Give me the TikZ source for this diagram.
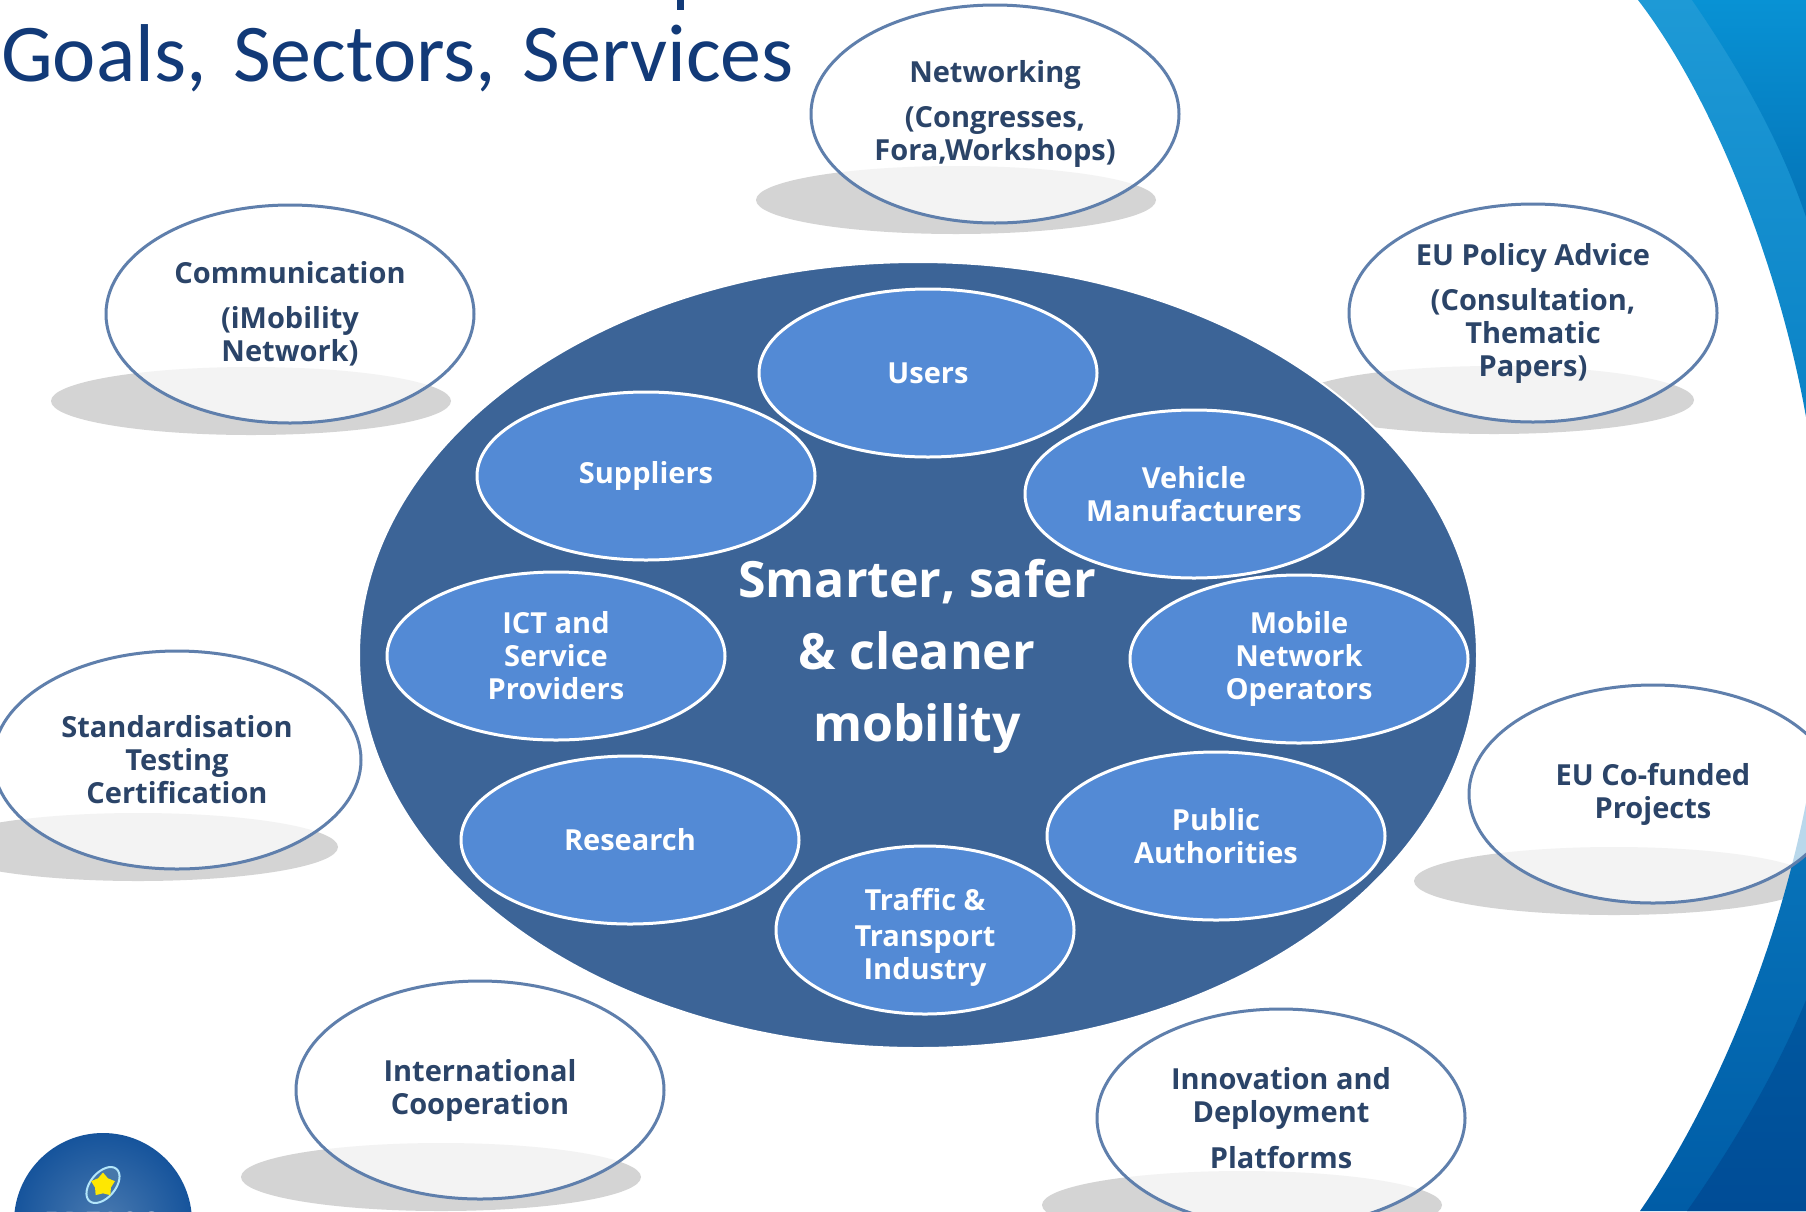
\documentclass[tikz,border=0pt]{standalone}
\usepackage{fontspec}
\usepackage{tikz}
\usetikzlibrary{shapes.geometric}
\setmainfont{Open Sans}
\newfontfamily\titlefont{Carlito}

\definecolor{navytext}{HTML}{2B4468}
\definecolor{titleblue}{HTML}{123A78}
\definecolor{hubblue}{HTML}{3C6497}
\definecolor{sectorblue}{HTML}{538AD5}
\definecolor{ringblue}{HTML}{5F7FAC}
\pgfdeclareradialshading{softedge}{\pgfpoint{0bp}{0bp}}{color(0bp)=(black!17); color(34bp)=(black!17); color(50bp)=(white); color(100bp)=(white)}

\begin{document}
\begin{tikzpicture}[x=1pt,y=-1pt,
                    goal/.style={ellipse,draw=ringblue,line width=3pt,fill=white,fill opacity=.72,text opacity=1,
                                 minimum width=368pt,minimum height=218pt,inner sep=0pt,align=center,
                                 text=navytext,font=\bfseries\fontsize{29}{33}\selectfont},
                    sector/.style={ellipse,draw=white,line width=3pt,fill=sectorblue,
                                   minimum width=338pt,minimum height=168pt,inner sep=0pt,align=center,
                                   text=white,font=\bfseries\fontsize{29}{33}\selectfont},
                    softshadow/.style={shading=softedge}]
                    \useasboundingbox (0,0) rectangle (1806,1211);
                    \path[clip] (0,0) rectangle (1806,1211);
                    \fill[white] (0,0) rectangle (1806,1211);

                    \shade[softshadow] (956,200) ellipse [x radius=200pt,y radius=34pt];
                    \shade[softshadow] (251,401) ellipse [x radius=200pt,y radius=34pt];
                    \shade[softshadow] (1494,400) ellipse [x radius=200pt,y radius=34pt];
                    \shade[softshadow] (138,847) ellipse [x radius=200pt,y radius=34pt];
                    \shade[softshadow] (1614,881) ellipse [x radius=200pt,y radius=34pt];
                    \shade[softshadow] (441,1177) ellipse [x radius=200pt,y radius=34pt];
                    \shade[softshadow] (1242,1205) ellipse [x radius=200pt,y radius=34pt];

                    \shade[top color=cyan!50!blue!10!white!75!black,bottom color=blue!20!cyan!60!black,draw=none,
                           top color={rgb,255:red,30;green,154;blue,214},bottom color={rgb,255:red,10;green,130;blue,198}]
                        (1638,0) .. controls (1715,100) and (1780,270) .. (1806,417) -- (1806,0) -- cycle;
                    \shade[top color={rgb,255:red,8;green,146;blue,212},bottom color={rgb,255:red,4;green,116;blue,184}]
                        (1692,0) .. controls (1740,70) and (1780,140) .. (1806,217) -- (1806,0) -- cycle;
                    \shade[top color={rgb,255:red,8;green,118;blue,188},bottom color={rgb,255:red,0;green,92;blue,166}]
                        (1640,1211) .. controls (1710,1110) and (1775,960) .. (1806,803) -- (1806,1211) -- cycle;
                    \shade[top color={rgb,255:red,0;green,88;blue,160},bottom color={rgb,255:red,0;green,76;blue,150}]
                        (1687,1211) .. controls (1730,1150) and (1775,1075) .. (1806,1000) -- (1806,1211) -- cycle;

                    \node[ellipse,draw=white,line width=2pt,fill=hubblue,minimum width=1118pt,minimum height=786pt] (hub) at (918,655) {};

                    \node[sector] (users) at (928,373) {Users};
                    \node[sector] (suppliers) at (646,476) {Suppliers};
                    \node[sector] (vehicle) at (1194,494) {Vehicle\\Manufacturers};
                    \node[sector] (ict) at (556,656) {ICT and\\Service\\Providers};
                    \node[sector] (mobile) at (1299,659) {Mobile\\Network\\Operators};
                    \node[sector] (research) at (630,840) {Research};
                    \node[sector] (public) at (1216,836) {Public\\Authorities};
                    \node[sector,minimum width=298pt] (traffic) at (925,930) {\rule{0pt}{36pt}Traffic \&\\[3pt]Transport\\Industry};

                    \node[text=white,align=center,font=\bfseries\fontsize{50}{72}\selectfont] (motto) at (917,656) {Smarter, safer\\\& cleaner\\mobility};

                    \node[goal] (networking) at (995,114) {Networking\\[12pt](Congresses,\\Fora,Workshops)};
                    \node[goal] (communication) at (290,314) {Communication\\[12pt](iMobility\\Network)};
                    \node[goal] (policy) at (1533,313) {EU Policy Advice\\[12pt](Consultation,\\Thematic\\Papers)};
                    \node[goal] (standards) at (177,760) {Standardisation\\Testing\\Certification};
                    \node[goal] (projects) at (1653,794) {EU Co-funded\\Projects};
                    \node[goal] (international) at (480,1090) {International\\Cooperation};
                    \node[goal] (innovation) at (1281,1118) {Innovation and\\Deployment\\[13pt]Platforms};

                    \node[anchor=west,inner sep=0pt,text=titleblue,font=\titlefont\fontsize{82}{82}\selectfont] (title) at (1,58) {Goals,\hspace{8pt} Sectors,\hspace{8pt} Services};
                    \fill[titleblue] (677,0) rectangle (684,10);

                    \shade[inner color={rgb,255:red,74;green,122;blue,176},outer color={rgb,255:red,22;green,84;blue,156}] (103,1222) circle (89pt);
                    \node[ellipse,draw=cyan!30!white,line width=2pt,fill={rgb,255:red,70;green,120;blue,170},rotate=50,minimum width=42pt,minimum height=25pt,inner sep=0pt] (swoosh) at (103,1185) {};
                    \node[star,fill=yellow!90!orange,minimum size=25pt,inner sep=0pt] (badge) at (103,1185) {};
                    \node[text=white,font=\bfseries\fontsize{24}{24}\selectfont] (ertico) at (103,1221) {E R T I C O};
                \end{tikzpicture}
\end{document}
